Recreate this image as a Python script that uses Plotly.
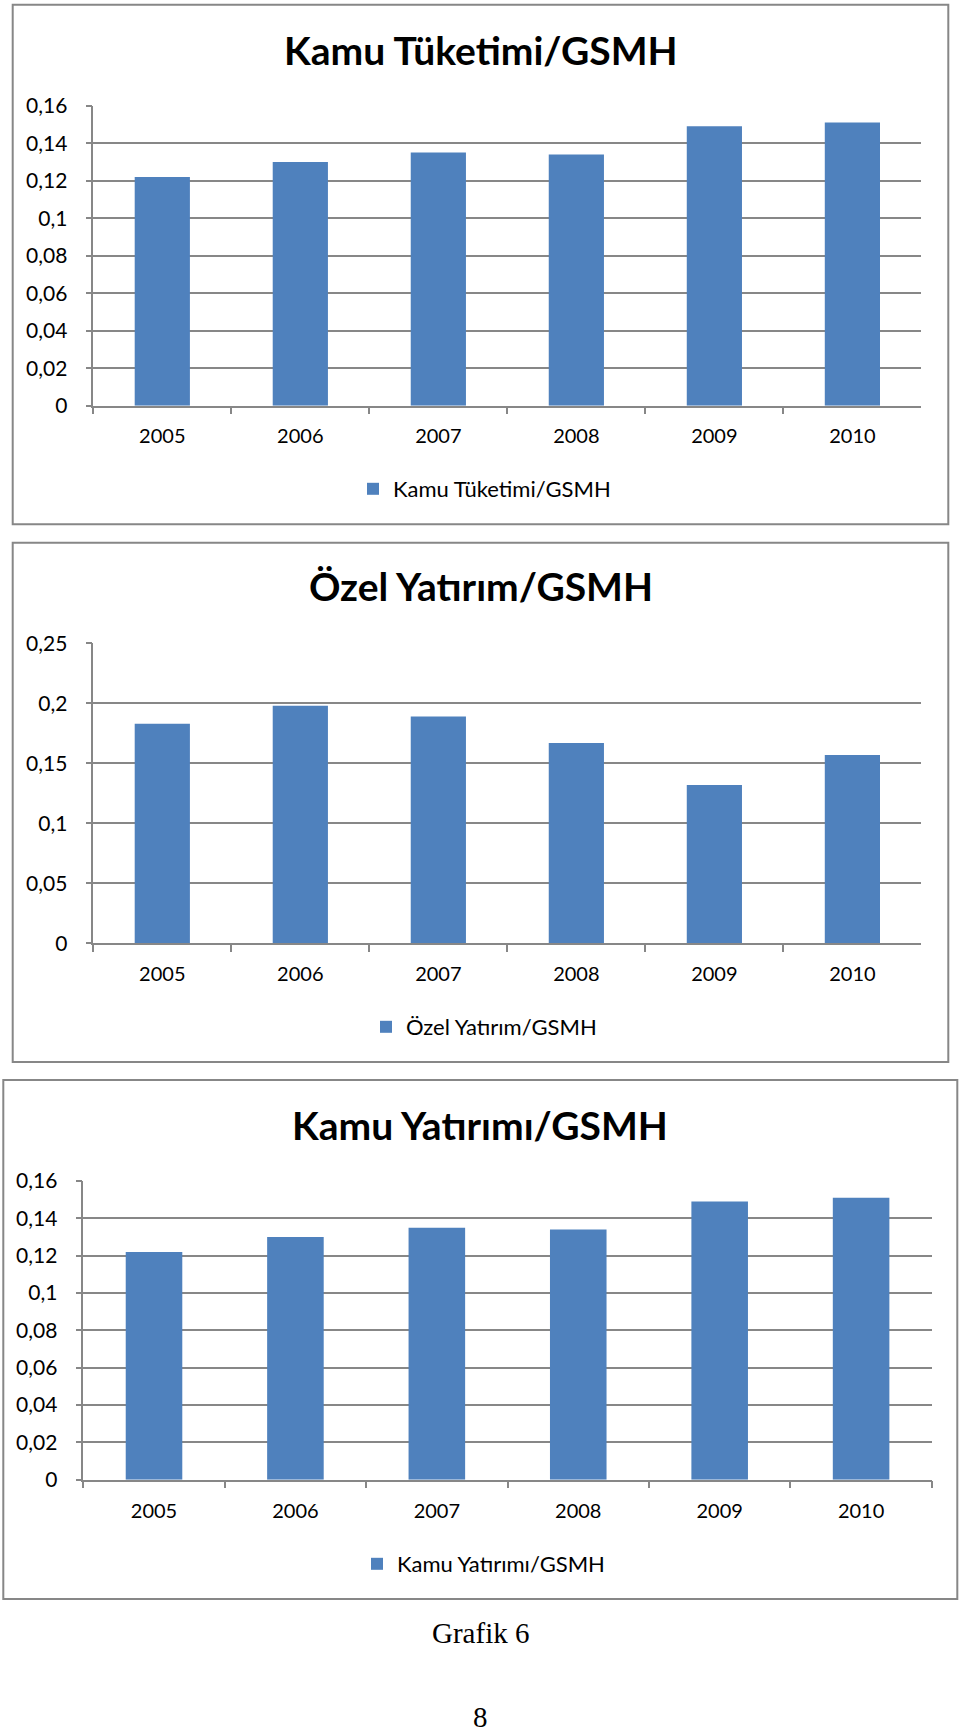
import plotly.graph_objects as go

W, H = 960, 1735

years = ["2005", "2006", "2007", "2008", "2009", "2010"]
kamu_tuketimi = [0.122, 0.130, 0.135, 0.134, 0.149, 0.151]
ozel_yatirim = [0.183, 0.198, 0.189, 0.167, 0.132, 0.157]
kamu_yatirimi = [0.122, 0.130, 0.135, 0.134, 0.149, 0.151]

titles = ["Kamu Tüketimi/GSMH", "Özel Yatırım/GSMH", "Kamu Yatırımı/GSMH"]
y_ticks_1 = [0, 0.02, 0.04, 0.06, 0.08, 0.10, 0.12, 0.14, 0.16]
y_ticks_2 = [0, 0.05, 0.10, 0.15, 0.20, 0.25]
y_ticks_3 = [0, 0.02, 0.04, 0.06, 0.08, 0.10, 0.12, 0.14, 0.16]


def lbl(v):
    s = ("%.2f" % v).rstrip("0").rstrip(".")
    return s.replace(".", ",")


BAR = "#4f81bd"
GRID = "#878787"
FONT = "Lato"


def px(x):
    return x / W


def py(y):
    return 1 - y / H


# pixel geometry per chart: plot area, box, title y, legend y / symbol left x
charts = [
    dict(data=kamu_tuketimi, ticks=y_ticks_1, rng=[0, 0.16],
         plot=(93.3, 921.4, 105.7, 405.7), box=(12.7, 948.3, 4.8, 524.3),
         ty=50, tx=481, ly=489, sx=367, xs=12),
    dict(data=ozel_yatirim, ticks=y_ticks_2, rng=[0, 0.25],
         plot=(93.3, 921.4, 643.3, 943.3), box=(12.7, 948.3, 542.7, 1062),
         ty=586, tx=481, ly=1027, sx=380, xs=12),
    dict(data=kamu_yatirimi, ticks=y_ticks_3, rng=[0, 0.16],
         plot=(83.3, 931.8, 1181, 1479.7), box=(3.3, 957.3, 1080, 1599),
         ty=1125, tx=480, ly=1564, sx=371, xs=13),
]

fig = go.Figure()
shapes = []
annotations = []
layout = {}

for i, c in enumerate(charts):
    n = i + 1
    xa = "x" if n == 1 else "x%d" % n
    ya = "y" if n == 1 else "y%d" % n
    lg = "legend" if n == 1 else "legend%d" % n
    fig.add_trace(go.Bar(
        x=years, y=c["data"], name=titles[i], marker_color=BAR,
        marker_line_width=0, xaxis=xa, yaxis=ya, legend=lg, width=0.4,
        showlegend=True))
    x0, x1, y0, y1 = c["plot"]
    layout["xaxis" if n == 1 else "xaxis%d" % n] = dict(
        domain=[px(x0), px(x1)], anchor=ya, type="category",
        showline=True, linecolor=GRID, linewidth=1.5,
        ticks="outside", tickson="boundaries", ticklen=7, tickcolor=GRID,
        tickwidth=1.5, showgrid=False, automargin=False,
        tickfont=dict(family=FONT, size=20, color="#000"),
        ticklabelstandoff=c["xs"])
    layout["yaxis" if n == 1 else "yaxis%d" % n] = dict(
        domain=[py(y1), py(y0)], anchor=xa, range=c["rng"],
        tickvals=c["ticks"], ticktext=[lbl(v) for v in c["ticks"]],
        showline=True, linecolor=GRID, linewidth=1.5,
        ticks="outside", ticklen=6, tickcolor=GRID, tickwidth=1.5,
        showgrid=True, gridcolor=GRID, gridwidth=1.5, zeroline=False,
        automargin=False,
        tickfont=dict(family=FONT, size=21, color="#000"),
        ticklabelstandoff=14)
    layout[lg] = dict(
        x=px(c["sx"] - 14), y=py(c["ly"]), xanchor="left", yanchor="middle",
        orientation="h", bgcolor="rgba(0,0,0,0)", borderwidth=0,
        font=dict(family=FONT, size=22, color="#000"))
    bx0, bx1, by0, by1 = c["box"]
    shapes.append(dict(type="rect", xref="paper", yref="paper",
                       x0=px(bx0), x1=px(bx1), y0=py(by1), y1=py(by0),
                       line=dict(color=GRID, width=2), layer="below"))
    annotations.append(dict(text="<b>%s</b>" % titles[i], xref="paper",
                            yref="paper", x=px(c["tx"]), y=py(c["ty"]),
                            xanchor="center", yanchor="middle",
                            showarrow=False,
                            font=dict(family=FONT, size=39, color="#000")))

annotations.append(dict(text="Grafik 6", xref="paper", yref="paper",
                        x=px(480), y=py(1633), xanchor="center",
                        yanchor="middle", showarrow=False,
                        font=dict(family="Liberation Serif", size=29,
                                  color="#000")))
annotations.append(dict(text="8", xref="paper", yref="paper",
                        x=px(480), y=0, xanchor="center",
                        yanchor="bottom", showarrow=False,
                        font=dict(family="Liberation Serif", size=29,
                                  color="#000")))

fig.update_layout(
    width=W, height=H,
    margin=dict(l=0, r=0, t=0, b=0, pad=0, autoexpand=False),
    paper_bgcolor="white", plot_bgcolor="white",
    shapes=shapes, annotations=annotations, bargap=0.6,
    **layout)

fig.write_html(
    "out.html",
    config={"displayModeBar": False},
    post_script="document.body.style.margin='0';"
                "document.body.style.overflow='hidden';")
